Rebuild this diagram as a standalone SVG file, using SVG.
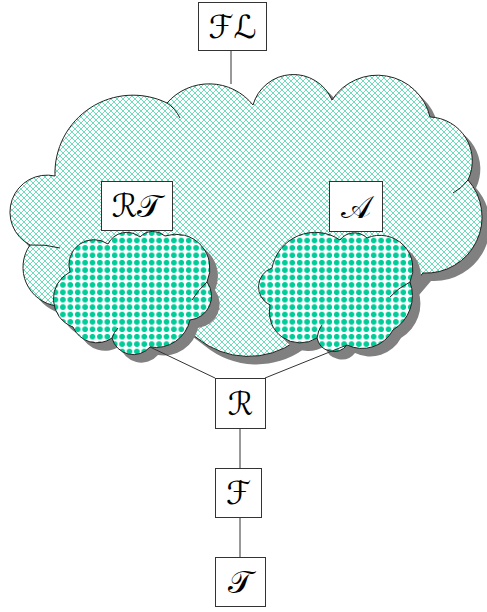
<svg xmlns="http://www.w3.org/2000/svg" width="487" height="612" viewBox="0 0 487 612">
  <style>
    .box { fill: #ffffff; stroke: #333333; stroke-width: 1; }
    .lbl { font-family: "DejaVu Serif", "DejaVu Sans", "Liberation Serif", serif; font-size: 32px; fill: #000000; text-anchor: middle; dominant-baseline: central; }
    .edge { fill: none; stroke: #333333; stroke-width: 1; }
    .outline { stroke: #222222; stroke-width: 1; }
    .shadow { fill: #808080; stroke: none; }
    .seam { fill: none; stroke: #222222; stroke-width: 1; }
  </style>
  <defs>
    <pattern id="hatch" width="6" height="6" patternUnits="userSpaceOnUse">
      <rect width="6" height="6" fill="#ffffff"/>
      <path d="M0,0 L6,6 M6,0 L0,6" stroke="#3fd1a5" stroke-width="0.75"/>
    </pattern>
    <pattern id="dots" width="7.4" height="7.4" patternUnits="userSpaceOnUse">
      <rect width="7.4" height="7.4" fill="#ffffff"/>
      <path d="M2.6,0.9 L4.8,0.9 L6.5,2.6 L6.5,4.8 L4.8,6.5 L2.6,6.5 L0.9,4.8 L0.9,2.6 Z" fill="#00cc99"/>
    </pattern>
    <path id="bigCloud" d="M55,176 A78,78 0 0 1 167,103 A56,56 0 0 1 253,105 A42,42 0 0 1 332,100 A54,54 0 0 1 430,117 A44,44 0 0 1 468,180 A56,56 0 0 1 423,273 L400,300 L330,325 L296,341 A81,81 0 0 1 197,338 L160,310 L90,305 L57,306 A39,39 0 0 1 30,245 A37,37 0 0 1 55,176 Z"/>
    <path id="leftCloud" d="M70,272 A25,25 0 0 1 108,244 A21,21 0 0 1 140,237 A18,18 0 0 1 165,236 A34,34 0 0 1 207,282 A24,24 0 0 1 190,320 A35,35 0 0 1 150,347 A22,22 0 0 1 112,338 A26,26 0 0 1 73,327 A30,30 0 0 1 70,272 Z"/>
    <path id="rightCloud" d="M272,268 A44,44 0 0 1 340,240 A18,18 0 0 1 367,238 A33,33 0 0 1 410,282 A40,40 0 0 1 393,330 A35,35 0 0 1 347,345 A17,17 0 0 1 317,338 A31,31 0 0 1 270,305 A20,20 0 0 1 272,268 Z"/>
  </defs>

  <!-- outer cloud -->
  <g id="cloud-FL">
    <use href="#bigCloud" class="shadow" transform="translate(8,8)"/>
    <use href="#bigCloud" class="outline" fill="url(#hatch)"/>
    <path class="seam" d="M167,103 Q175,108 180,118 M468,180 Q462,188 453,193 M30,245 Q45,244 60,248"/>
  </g>

  <!-- inner clouds -->
  <g id="cloud-RT">
    <use href="#leftCloud" class="shadow" transform="translate(8,8)"/>
    <use href="#leftCloud" class="outline" fill="url(#dots)"/>
    <path class="seam" d="M207,282 Q198,290 192,300 M112,338 Q114,332 118,328"/>
  </g>
  <g id="cloud-A">
    <use href="#rightCloud" class="shadow" transform="translate(8,8)"/>
    <use href="#rightCloud" class="outline" fill="url(#dots)"/>
    <path class="seam" d="M410,282 Q398,288 390,297 M317,338 Q318,330 322,325"/>
  </g>

  <!-- connectors -->
  <g id="connectors">
    <path class="edge" d="M231,51 L231,84"/>
    <path class="edge" d="M150,347 L215,378"/>
    <path class="edge" d="M347,345 L265,378"/>
    <path class="edge" d="M240,428 L240,468"/>
    <path class="edge" d="M240,517 L240,557"/>
  </g>

  <!-- labelled nodes -->
  <g id="node-FL">
    <rect class="box" x="198.5" y="2.5" width="68" height="48"/>
    <text class="lbl" x="232.5" y="27">ℱℒ</text>
  </g>
  <g id="node-RT">
    <rect class="box" x="101.5" y="181.5" width="71" height="49"/>
    <text class="lbl" x="137" y="206">ℛ𝒯</text>
  </g>
  <g id="node-A">
    <rect class="box" x="329.5" y="181.5" width="53" height="50"/>
    <text class="lbl" x="356" y="207">𝒜</text>
  </g>
  <g id="node-R">
    <rect class="box" x="215.5" y="378.5" width="50" height="50"/>
    <text class="lbl" x="240.5" y="404">ℛ</text>
  </g>
  <g id="node-F">
    <rect class="box" x="215.5" y="468.5" width="46" height="49"/>
    <text class="lbl" x="238.5" y="493">ℱ</text>
  </g>
  <g id="node-T">
    <rect class="box" x="215.5" y="557.5" width="50" height="49"/>
    <text class="lbl" x="240.5" y="582">𝒯</text>
  </g>
</svg>
